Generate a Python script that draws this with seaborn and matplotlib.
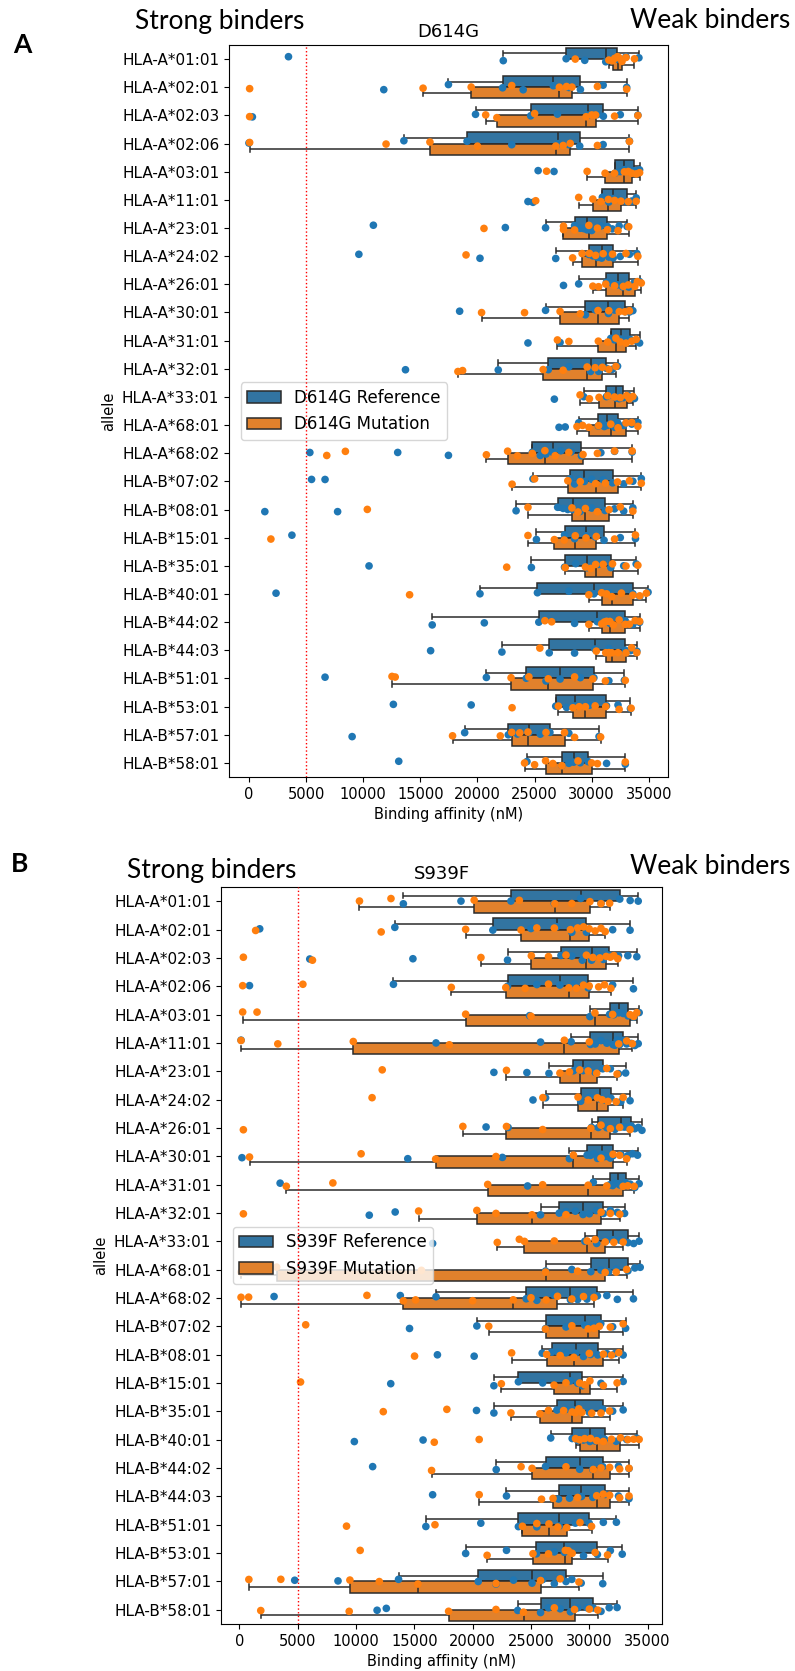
import numpy as np
import pandas as pd
import matplotlib
matplotlib.use("Agg")
import matplotlib.pyplot as plt
import seaborn as sns

# alleles on the y axis (same for both panels)
alleles = ["HLA-A*01:01", "HLA-A*02:01", "HLA-A*02:03", "HLA-A*02:06", "HLA-A*03:01",
           "HLA-A*11:01", "HLA-A*23:01", "HLA-A*24:02", "HLA-A*26:01", "HLA-A*30:01",
           "HLA-A*31:01", "HLA-A*32:01", "HLA-A*33:01", "HLA-A*68:01", "HLA-A*68:02",
           "HLA-B*07:02", "HLA-B*08:01", "HLA-B*15:01", "HLA-B*35:01", "HLA-B*40:01",
           "HLA-B*44:02", "HLA-B*44:03", "HLA-B*51:01", "HLA-B*53:01", "HLA-B*57:01",
           "HLA-B*58:01"]

# binding affinities (nM), one list per allele
d614g_ref = [
    [3460, 22260, 27760, 29390, 31230, 31700, 32200, 33000, 34130],
    [11800, 17460, 22200, 24000, 26640, 28000, 29010, 31000, 33060],
    [300, 19830, 24660, 27000, 29690, 30500, 31020, 32500, 34040],
    [0, 13560, 19090, 23000, 27080, 28000, 28950, 31000, 33300],
    [25310, 26700, 32060, 32500, 32860, 33300, 33740, 34000, 34190],
    [24420, 24860, 30930, 31500, 31880, 32500, 33060, 33500, 33890],
    [10890, 22440, 25960, 28500, 29000, 29300, 29600, 30000, 30800, 31380, 31800, 32400, 33090],
    [9620, 20220, 26850, 29750, 30100, 30500, 30870, 31200, 31500, 31880, 32500, 33300, 33950],
    [27530, 28860, 31290, 31800, 32260, 32700, 33240, 33700, 34190],
    [18440, 25960, 29450, 30300, 31460, 32000, 32940, 33300, 33600],
    [24420, 27230, 31670, 32000, 32560, 32900, 33360, 33800, 34190],
    [13700, 21820, 26200, 28000, 29900, 30600, 31290, 31800, 32260],
    [26730, 29300, 31290, 31700, 32120, 32400, 32770, 33200, 33740],
    [27140, 27680, 28860, 30580, 30900, 31100, 31380, 31700, 32000, 32260, 32800, 33500, 34040],
    [5330, 13020, 17460, 24800, 25500, 26000, 26580, 27300, 28200, 29100, 30800, 32000, 33540],
    [5480, 6660, 24860, 28120, 28500, 28900, 29360, 30000, 31000, 31820, 32800, 33600, 34340],
    [1390, 7760, 23380, 27020, 27500, 27900, 28330, 29000, 30000, 31170, 32000, 32800, 33600],
    [3760, 25160, 27620, 28500, 29510, 30300, 31080, 32500, 33830],
    [10510, 24720, 27620, 28600, 29600, 30600, 31670, 32800, 33890],
    [2370, 20220, 25250, 28000, 30190, 31500, 33600, 34200, 34930],
    [16040, 20600, 25370, 28500, 30490, 31600, 32940, 33600, 34190],
    [15900, 22140, 26280, 28500, 30280, 31500, 32940, 33400, 33950],
    [6660, 20780, 24270, 26000, 27230, 29000, 30190, 31500, 32860],
    [12640, 19450, 26850, 27800, 28560, 29800, 31290, 32300, 33390],
    [9030, 18880, 22700, 23500, 24510, 25500, 26340, 28000, 30640],
    [13110, 24330, 27380, 28000, 28420, 29000, 29690, 31300, 32940],
]

d614g_mut = [
    [28560, 31500, 31820, 32000, 32260, 32400, 32650, 33000, 33740],
    [60, 15240, 19450, 23000, 27170, 27800, 28270, 30500, 33060],
    [60, 20720, 21700, 25000, 29510, 30000, 30340, 32000, 34040],
    [60, 12000, 15840, 20000, 26850, 27500, 28120, 30500, 33300],
    [26050, 29600, 31170, 32000, 32860, 33200, 33510, 33900, 34190],
    [25100, 28860, 30100, 30800, 31460, 32000, 32560, 33200, 33890],
    [20570, 27530, 27530, 28500, 29750, 30500, 31380, 32300, 33240],
    [19000, 28330, 29160, 29800, 30340, 31000, 31820, 33000, 34040],
    [30100, 30600, 31230, 32000, 32770, 33200, 33770, 34000, 34340],
    [20360, 24120, 27230, 29000, 30550, 31500, 32410, 32900, 33300],
    [27000, 28000, 30580, 31400, 32120, 32500, 33000, 33500, 33890],
    [18290, 18700, 25750, 27500, 29600, 30300, 30930, 31500, 32120],
    [28980, 29800, 30640, 31400, 32000, 32500, 33060, 33300, 33600],
    [28710, 29200, 29750, 30600, 31670, 32300, 33000, 33500, 34040],
    [6810, 8440, 20780, 22640, 23500, 24800, 25900, 26800, 28000, 29240, 30500, 32000, 33540],
    [23030, 25000, 27910, 29000, 30340, 31200, 32260, 33300, 34340],
    [10360, 24420, 28270, 28800, 29450, 30500, 31520, 32500, 33600],
    [1920, 24420, 26730, 27600, 28560, 29500, 30400, 32000, 33830],
    [22560, 27680, 29450, 29900, 30340, 31000, 31820, 33000, 34040],
    [14060, 29750, 30870, 31300, 31760, 32600, 33600, 34200, 34780],
    [25900, 26490, 29750, 30870, 31100, 31300, 31580, 31900, 32400, 32940, 33300, 33800, 34190],
    [25460, 30400, 31230, 31500, 31760, 32300, 33000, 33500, 33950],
    [12520, 12800, 22940, 24500, 26200, 28500, 30100, 31200, 32940],
    [23030, 27080, 28360, 28900, 29450, 30300, 31230, 32400, 33450],
    [17820, 22000, 23000, 23700, 24420, 26000, 27620, 28500, 30780],
    [24120, 25000, 25960, 26600, 27380, 28800, 29990, 30500, 32940],
]

s939f_ref = [
    [14060, 19000, 23280, 27000, 29260, 31000, 32610, 33500, 34190],
    [1750, 13330, 21730, 25000, 27190, 28500, 29750, 32000, 33490],
    [6040, 14880, 22990, 27570, 28500, 29400, 30190, 30800, 31200, 31650, 32500, 33300, 34070],
    [875, 13210, 22990, 25500, 27480, 28700, 29900, 32000, 33780],
    [24880, 30050, 31740, 32100, 32520, 32900, 33310, 33800, 34270],
    [150, 16860, 25820, 28440, 30100, 30500, 31000, 31500, 32030, 32200, 32400, 32600, 32900,
     33200, 33600, 33900, 34190],
    [21820, 24650, 26540, 28640, 28900, 29200, 29460, 29900, 30500, 31150, 31800, 32500, 33110],
    [25170, 26250, 29260, 30000, 30920, 31300, 31850, 32700, 33490],
    [21150, 23040, 30190, 30770, 31500, 32200, 32730, 33000, 33300, 33600, 33900, 34200, 34510],
    [230, 14440, 22550, 28290, 29810, 30100, 30400, 30700, 31070, 31300, 31500, 31800, 32030,
     32700, 33300, 33700, 34130],
    [3500, 24710, 30340, 31740, 32000, 32200, 32440, 32600, 32850, 33110, 33500, 33900, 34270],
    [11140, 13360, 25820, 27420, 28000, 28800, 29460, 30000, 30600, 31210, 31800, 32400, 33020],
    [16570, 29610, 30630, 31500, 32030, 32600, 33310, 33800, 34270],
    [26250, 28500, 30130, 31000, 31650, 32300, 33310, 33900, 34360],
    [2980, 13800, 16860, 24590, 25500, 27000, 28380, 29000, 29800, 30690, 31500, 32400, 33780],
    [14590, 20360, 26250, 28000, 29610, 30300, 30980, 32000, 33110],
    [16980, 20130, 25960, 26780, 27300, 28000, 28820, 29500, 30100, 30720, 31500, 32200, 32900],
    [12980, 21820, 23920, 26000, 28380, 29000, 29400, 31000, 32900],
    [20330, 21820, 27220, 28000, 28730, 30000, 31150, 32000, 32900],
    [9860, 15750, 26690, 28530, 29000, 29500, 30050, 30500, 30900, 31300, 32300, 33200, 34070],
    [11430, 22020, 26250, 28000, 29170, 30300, 31150, 32500, 33400],
    [16570, 22900, 27360, 28300, 29320, 30300, 31360, 32500, 33400],
    [15990, 20700, 23920, 25500, 27420, 28800, 29990, 31200, 32320],
    [19400, 22900, 25470, 27000, 27860, 29500, 30690, 31800, 32820],
    [4750, 8460, 13650, 20480, 22000, 23500, 25090, 26000, 27000, 28000, 28500, 29300, 31150],
    [11810, 12600, 23860, 25820, 26500, 27500, 28380, 29000, 29800, 30340, 31000, 31700, 32380],
]

s939f_mut = [
    [10300, 13000, 20130, 24000, 27040, 28500, 30050, 31000, 31740],
    [1400, 12160, 19400, 24150, 25500, 27000, 28380, 29000, 29500, 29990, 30500, 31000, 31360],
    [350, 6270, 20710, 25030, 26500, 28000, 29750, 30300, 30900, 31450, 31800, 32100, 32440],
    [290, 5450, 18170, 22840, 24500, 26500, 28240, 28900, 29500, 29990, 30800, 31300, 31850],
    [290, 1520, 19400, 25000, 30480, 32000, 33490, 33800, 34070],
    [150, 3300, 9770, 18000, 27860, 30000, 32520, 33200, 33690],
    [12250, 22900, 27480, 28300, 29170, 29900, 30630, 31500, 32380],
    [11380, 26020, 29030, 29900, 30690, 31100, 31600, 32300, 32900],
    [350, 19160, 22900, 26000, 30130, 31000, 31800, 32600, 33490],
    [875, 10440, 16830, 22000, 28640, 31000, 32030, 32600, 33200],
    [4030, 8020, 21290, 26000, 29900, 31500, 32900, 33300, 33840],
    [350, 15370, 20360, 22000, 25090, 28000, 31010, 31800, 32610],
    [22110, 24000, 24440, 27000, 29810, 30500, 31360, 32100, 32900],
    [150, 2190, 3200, 15610, 26250, 29000, 31360, 32300, 33200],
    [150, 800, 10940, 14060, 15110, 20000, 23480, 25000, 26300, 27270, 28500, 29500, 30400],
    [5690, 21380, 26250, 28500, 29900, 30400, 30860, 31800, 32900],
    [15020, 23340, 26340, 27500, 28670, 30000, 31210, 31900, 32520],
    [5250, 22460, 26980, 28000, 29170, 29600, 30050, 31200, 32380],
    [12340, 17790, 23280, 25760, 26500, 27800, 28530, 28800, 29100, 29370, 30200, 31000, 31740],
    [16710, 20560, 28820, 29170, 29600, 30100, 30630, 31200, 31900, 32670, 33300, 33800, 34270],
    [16480, 24150, 25090, 28000, 30340, 31000, 31740, 32600, 33400],
    [20560, 25900, 26890, 29000, 30630, 31200, 31740, 32600, 33400],
    [9190, 16770, 24270, 25500, 26540, 27300, 28060, 29200, 30190],
    [10360, 21240, 25170, 26500, 27940, 28200, 28530, 30500, 31560],
    [820, 3560, 9480, 12000, 15310, 22000, 25820, 27500, 29110],
    [1840, 9420, 17940, 22000, 24360, 27000, 28730, 30000, 30720],
]

colors = ["#1f77b4", "#ff7f0e"]

plt.rcParams.update({
    "xtick.labelsize": 10.5,
    "ytick.labelsize": 11,
    "axes.labelsize": 10.5,
    "axes.titlesize": 13,
    "legend.fontsize": 12,
})

W, H = 795, 1671
fig = plt.figure(figsize=(W / 100, H / 100), dpi=100)
np.random.seed(7)  # only for the strip jitter


def long_frame(ref, mut, name):
    rows = []
    for allele, r, m in zip(alleles, ref, mut):
        rows += [(allele, v, name + " Reference") for v in r]
        rows += [(allele, v, name + " Mutation") for v in m]
    return pd.DataFrame(rows, columns=["allele", "affinity", "group"])


def panel(box, ref, mut, name):
    left, top, right, bottom = box
    ax = fig.add_axes([left / W, 1 - bottom / H, (right - left) / W, (bottom - top) / H])
    df = long_frame(ref, mut, name)
    hue_order = [name + " Reference", name + " Mutation"]
    sns.boxplot(data=df, x="affinity", y="allele", hue="group", order=alleles,
                hue_order=hue_order, palette=colors, showfliers=False,
                linecolor="#2b2b2b", linewidth=1.1, ax=ax)
    sns.stripplot(data=df, x="affinity", y="allele", hue="group", order=alleles,
                  hue_order=hue_order, palette=colors, dodge=False, size=5.5,
                  legend=False, zorder=3, ax=ax)
    ax.axvline(5000, color="red", ls=":", lw=1, zorder=6)
    ax.set_title(name)
    ax.set_xlabel("Binding affinity (nM)")
    ax.set_ylabel("allele")
    sns.move_legend(ax, "center left", title=None, borderaxespad=0.7)
    return ax


panel((229, 45, 668, 777), d614g_ref, d614g_mut, "D614G")
panel((221, 887, 662, 1624), s939f_ref, s939f_mut, "S939F")

ann = dict(family=["Lato", "DejaVu Sans"], fontsize=19, ha="center", va="center")
fig.text(22 / W, 1 - 45 / H, "A", fontweight="bold", **ann)
fig.text(220 / W, 1 - 21 / H, "Strong binders", **ann)
fig.text(710 / W, 1 - 21 / H, "Weak binders", **ann)
fig.text(20 / W, 1 - 864 / H, "B", fontweight="bold", **ann)
fig.text(212 / W, 1 - 870 / H, "Strong binders", **ann)
fig.text(710 / W, 1 - 866 / H, "Weak binders", **ann)

fig.savefig("out.png", dpi=100)
